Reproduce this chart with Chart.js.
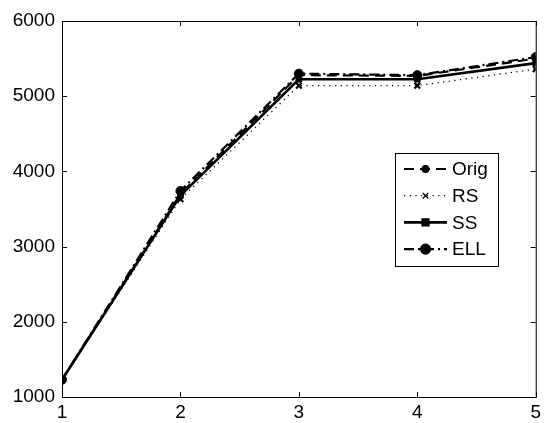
<!DOCTYPE html>
<html>
<head>
<meta charset="utf-8">
<script src="https://cdn.jsdelivr.net/npm/chart.js@4/dist/chart.umd.min.js"></script>
<style>
  html, body { margin: 0; padding: 0; background: #fff; }
  #wrap { width: 545px; height: 423px; }
</style>
</head>
<body>
<div id="wrap"><canvas id="c"></canvas></div>
<script>
const xs = [1, 2, 3, 4, 5];
const orig = [1230, 3700, 5280, 5270, 5500];
const rs = [1230, 3630, 5140, 5140, 5360];
const ss = [1230, 3680, 5225, 5225, 5440];
const ell = [1230, 3740, 5300, 5280, 5520];
const labels = ["Orig", "RS", "SS", "ELL"];

const FONT = '"Liberation Sans", Arial, sans-serif';
const pts = (ys) => xs.map((x, i) => ({ x, y: ys[i] }));

const series = [
  { data: orig, dash: [10, 6], width: 2.2, style: "circle", r: 2.8 },
  { data: rs, dash: [1.2, 4.5], width: 1.3, style: "crossRot", r: 4 },
  { data: ss, dash: [], width: 2.6, style: "rect", r: 4 },
  { data: ell, dash: [10, 4, 2, 4], width: 2.2, style: "circle", r: 4.5 },
];

const datasets = series.map((s, i) => ({
  label: labels[i],
  data: pts(s.data),
  borderColor: "#000",
  backgroundColor: "#000",
  borderWidth: s.width,
  borderDash: s.dash,
  pointStyle: s.style,
  pointRadius: s.r,
  pointBorderWidth: s.style === "crossRot" ? 2.2 : 1,
  pointBorderColor: "#000",
  pointBackgroundColor: "#000",
  tension: 0,
}));

// MATLAB-style box with inward ticks and an in-plot legend
const boxPlugin = {
  id: "box",
  afterDraw(chart) {
    const { ctx, chartArea: a, scales } = chart;
    ctx.save();
    ctx.strokeStyle = "#000";
    ctx.fillStyle = "#000";
    ctx.lineWidth = 1;
    ctx.strokeRect(a.left + 0.5, a.top + 0.5, a.right - a.left, a.bottom - a.top);
    ctx.beginPath();
    for (const t of scales.y.ticks) {
      const y = Math.round(scales.y.getPixelForValue(t.value)) + 0.5;
      ctx.moveTo(a.left, y); ctx.lineTo(a.left + 5, y);
      ctx.moveTo(a.right, y); ctx.lineTo(a.right - 5, y);
    }
    for (const t of scales.x.ticks) {
      const x = Math.round(scales.x.getPixelForValue(t.value)) + 0.5;
      ctx.moveTo(x, a.bottom); ctx.lineTo(x, a.bottom - 5);
      ctx.moveTo(x, a.top); ctx.lineTo(x, a.top + 5);
    }
    ctx.stroke();

    // legend
    const lx = 395, ly = 153, lw = 103, lh = 113;
    ctx.fillStyle = "#fff";
    ctx.fillRect(lx, ly, lw, lh);
    ctx.strokeRect(lx + 0.5, ly + 0.5, lw, lh);
    ctx.font = "19px " + FONT;
    ctx.textBaseline = "middle";
    chart.data.datasets.forEach((ds, i) => {
      const y = 169 + i * 26.7;
      ctx.strokeStyle = "#000";
      ctx.fillStyle = "#000";
      ctx.setLineDash(ds.borderDash);
      ctx.lineWidth = ds.borderWidth;
      ctx.beginPath();
      ctx.moveTo(404, y); ctx.lineTo(447, y);
      ctx.stroke();
      ctx.setLineDash([]);
      Chart.helpers.drawPoint(ctx, {
        pointStyle: ds.pointStyle, radius: ds.pointRadius, rotation: 0,
        borderWidth: ds.pointBorderWidth,
      }, 425.5, y);
      ctx.fillStyle = "#000";
      ctx.fillText(ds.label, 452, y + 1);
    });
    ctx.restore();
  },
};

new Chart(document.getElementById("c"), {
  type: "line",
  data: { datasets },
  options: {
    responsive: true,
    maintainAspectRatio: false,
    animation: false,
    layout: { padding: { top: 21, right: 7, left: 0, bottom: 0 } },
    plugins: { legend: { display: false }, tooltip: { enabled: false } },
    scales: {
      x: {
        type: "linear", min: 1, max: 5,
        grid: { display: false, drawTicks: false },
        border: { display: false },
        ticks: { stepSize: 1, color: "#000", padding: 4, font: { family: FONT, size: 19 },
          callback: (v) => String(v) },
        afterFit: (s) => { s.height = 26; },
      },
      y: {
        min: 1000, max: 6000,
        grid: { display: false, drawTicks: false },
        border: { display: false },
        ticks: { stepSize: 1000, color: "#000", padding: 7, font: { family: FONT, size: 19 },
          callback: (v) => String(v) },
        afterFit: (s) => { s.width = 62; },
      },
    },
  },
  plugins: [boxPlugin],
});
</script>
</body>
</html>
